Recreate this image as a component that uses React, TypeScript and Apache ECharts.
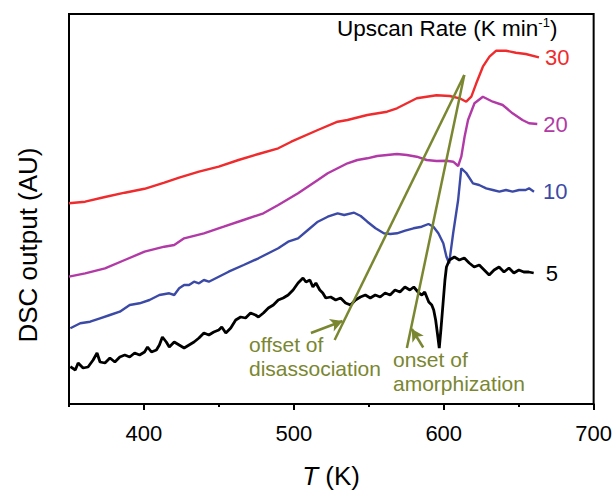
import React, { useEffect, useRef } from "react";
import * as echarts from "echarts";

// ---- data (T in K, DSC output in arbitrary units) ----
const temp30 = [350, 360.8, 374.0, 387.2, 400.4, 413.6, 423.5, 436.7, 449.9, 463.1, 476.4, 489.6, 498.3, 516.0, 529.2, 535.8, 549.0, 562.2, 568.8, 582.0, 595.2, 604.0, 610.6, 615.0, 618.4, 621.7, 626.1, 630.5, 635.0, 641.5, 648.1, 654.7, 663.5];
const dsc30 = [200.7, 202.3, 207, 211.3, 215.2, 221.3, 226.3, 232.3, 237.3, 244, 250, 255.7, 262.3, 274, 282.3, 284, 289, 292.3, 295.7, 305.7, 308.7, 308, 305.7, 302.3, 307.3, 320.7, 337.3, 347.3, 353.3, 353.3, 351.3, 350, 346.7];

const temp20 = [350, 360.8, 374.0, 387.2, 400.4, 413.6, 420.2, 426.8, 440.0, 453.2, 466.4, 479.7, 489.6, 502.8, 516.0, 522.6, 529.2, 535.8, 542.4, 549.0, 555.6, 562.2, 568.8, 575.4, 582.0, 588.6, 595.2, 601.8, 606.3, 609.6, 611.7, 613.9, 616.2, 620.5, 626.1, 632.7, 639.3, 645.9, 652.5, 656.9, 662.4];
const dsc20 = [127.3, 130.7, 135.7, 144, 152.3, 157.3, 159, 165.7, 170.7, 177.3, 184, 190.7, 199, 210.7, 224, 230.7, 235.7, 240.7, 244, 245.7, 248, 249, 250, 249, 247.3, 244, 243, 243.3, 242.3, 238, 247.3, 267.3, 284, 300.7, 307.3, 302.3, 299, 290.7, 284, 280.7, 280];

const temp10 = [350.9, 357.5, 364.1, 370.7, 377.3, 383.9, 390.5, 397.1, 403.7, 410.3, 416.9, 420.2, 423.5, 426.8, 430.1, 433.4, 436.7, 440.0, 443.3, 449.9, 456.5, 466.5, 476.4, 483.0, 489.6, 496.2, 502.8, 509.4, 516.0, 522.6, 529.2, 533.6, 540.2, 544.6, 549.0, 554.5, 560.0, 564.4, 568.8, 574.3, 579.8, 585.3, 589.8, 593.1, 596.4, 599.7, 601.8, 603.6, 606.3, 609.6, 611.7, 615.0, 619.5, 623.6, 628.3, 632.7, 637.1, 641.5, 645.9, 650.3, 654.7, 656.9, 660.2];
const dsc10 = [75.7, 80.7, 82.3, 85.7, 89, 92.3, 99, 100.7, 104, 109, 110.7, 109, 115.7, 119, 119, 122.3, 120.7, 124, 122.3, 127.3, 132.3, 139, 145.7, 150.7, 155.7, 162.3, 165.7, 174, 182.3, 187.3, 190.7, 189, 191.3, 188, 182.3, 175.7, 170.7, 170, 170.7, 173.3, 175.7, 177.3, 180, 177.3, 170.7, 160.7, 147.3, 140.7, 171, 204, 235.7, 231, 220.7, 219, 215.7, 214, 212.3, 214, 212.3, 214, 214, 215.7, 212.3];

const temp5 = [350.9, 354.2, 356.1, 359.4, 362.7, 366.1, 368.7, 370.7, 374.0, 377.3, 380.6, 383.9, 387.2, 390.5, 393.8, 397.1, 400.4, 402.4, 405.0, 408.3, 410.3, 412.3, 414.9, 416.9, 420.2, 423.5, 426.8, 430.1, 433.4, 436.7, 440.0, 443.3, 446.6, 449.9, 451.9, 454.6, 457.9, 461.2, 464.5, 467.8, 471.1, 474.4, 476.4, 479.7, 483.0, 486.3, 489.6, 492.9, 496.2, 499.5, 502.8, 506.1, 508.1, 510.7, 512.7, 514.7, 517.3, 519.3, 521.3, 524.6, 527.9, 531.2, 534.5, 537.8, 541.1, 544.4, 547.7, 551.0, 554.3, 557.6, 560.9, 564.2, 567.5, 570.8, 574.1, 577.4, 580.0, 583.4, 585.4, 587.3, 590.0, 592.0, 593.3, 594.6, 596.0, 597.0, 598.2, 599.5, 600.8, 601.8, 603.8, 607.1, 610.4, 613.7, 617.0, 620.3, 623.7, 627.0, 630.3, 633.6, 636.9, 640.2, 643.5, 646.8, 650.1, 653.4, 656.7, 660.0];
const dsc5 = [37.3, 34, 41, 36, 37, 44, 51, 42, 41, 46, 42, 47, 49, 47, 51, 49, 52, 57, 52, 54, 59, 67, 62, 57, 62, 59, 56, 59, 62, 66, 71, 69, 72, 74, 77, 71, 76, 84, 87, 86, 91, 89, 87, 91, 96, 99, 104, 106, 109, 114, 121, 126, 122, 124, 117, 121, 114, 111, 106, 107, 104, 106, 101, 99, 104, 107, 109, 106, 109, 107, 111, 109, 114, 112, 117, 114, 117, 111, 109, 112, 102, 99, 94, 84, 68, 56, 76, 100, 124, 137, 144, 147, 144, 146, 141, 137, 139, 134, 129, 134, 137, 132, 136, 131, 134, 132, 132, 131];

const rateLabels = ["30", "20", "10", "5"];
const xTickLabels = [400, 500, 600, 700];
const xMinorTicks = [350, 450, 550, 650];

// annotation segments [T, value]
const guideApex = [613.7, 329];
const guideOffsetEnd = [527.2, 64];
const guideOnsetEnd = [575.4, 56];
const arrowOffset = [[511.4, 71], [532.5, 83]];
const arrowOnset = [[586.3, 56.5], [578.7, 75]];

const FONT = '"Liberation Sans", Arial, Helvetica, sans-serif';
const OLIVE = "#7a8630";
const colors = ["#ef2b2d", "#b23aa6", "#3b4aa6", "#000000"];

const zip = (xs: number[], ys: number[]) => xs.map((x, i) => [x, ys[i]]);

export default function App() {
  const ref = useRef<HTMLDivElement>(null);
  useEffect(() => {
    document.body.style.margin = "0";
    const chart = echarts.init(ref.current!, undefined, { renderer: "svg" });
    const seriesData = [zip(temp30, dsc30), zip(temp20, dsc20), zip(temp10, dsc10), zip(temp5, dsc5)];
    const labelDist = [6, 6, 9, 12];
    const widths = [2.4, 2.4, 2.4, 2.8];
    const series: any[] = seriesData.map((d, i) => ({
      type: "line",
      name: rateLabels[i],
      data: d,
      symbol: "none",
      showSymbol: false,
      lineStyle: { color: colors[i], width: widths[i] },
      itemStyle: { color: colors[i] },
      endLabel: {
        show: true,
        formatter: rateLabels[i],
        color: colors[i],
        fontSize: 22,
        fontFamily: FONT,
        distance: labelDist[i],
      },
      silent: true,
      z: 2,
    }));
    const seg = (a: number[], b: number[], arrow = false) => [
      { coord: a, symbol: "none" },
      { coord: b, symbol: arrow ? "arrow" : "none", symbolSize: arrow ? [10, 12] : 0 },
    ];
    series.push({
      type: "line",
      data: [],
      silent: true,
      z: 5,
      markLine: {
        silent: true,
        animation: false,
        symbol: ["none", "none"],
        label: { show: false },
        lineStyle: { color: OLIVE, width: 2.5, type: "solid" },
        itemStyle: { color: OLIVE },
        emphasis: { disabled: true },
        data: [
          seg(guideApex, guideOffsetEnd),
          seg(guideApex, guideOnsetEnd),
          seg(arrowOffset[0], arrowOffset[1], true),
          seg(arrowOnset[0], arrowOnset[1], true),
        ],
      },
    });

    chart.setOption({
      animation: false,
      textStyle: { fontFamily: FONT },
      grid: {
        left: 69,
        right: 16,
        top: 14,
        bottom: 87,
        show: true,
        borderColor: "#000",
        borderWidth: 2,
        containLabel: false,
      },
      xAxis: [
        {
          type: "value",
          min: 350,
          max: 700,
          position: "bottom",
          splitLine: { show: false },
          axisLine: { show: true, lineStyle: { color: "#000", width: 2 } },
          axisTick: {
            show: true,
            customValues: xTickLabels,
            length: 6,
            lineStyle: { color: "#000", width: 2 },
          },
          axisLabel: {
            show: true,
            customValues: xTickLabels,
            color: "#000",
            fontSize: 22,
            fontFamily: FONT,
            margin: 18,
          },
        },
        {
          type: "value",
          min: 350,
          max: 700,
          position: "bottom",
          splitLine: { show: false },
          axisLine: { show: false },
          axisTick: {
            show: true,
            customValues: xMinorTicks,
            length: 3,
            lineStyle: { color: "#000", width: 2 },
          },
          axisLabel: { show: false },
        },
      ],
      yAxis: {
        type: "value",
        min: 0,
        max: 390,
        splitLine: { show: false },
        axisLine: { show: true, lineStyle: { color: "#000", width: 2 } },
        axisTick: { show: false },
        axisLabel: { show: false },
      },
      graphic: [
        {
          type: "text",
          x: 28,
          y: 245,
          rotation: Math.PI / 2,
          style: {
            text: "DSC output (AU)",
            fill: "#000",
            fontSize: 26,
            fontFamily: FONT,
            textAlign: "center",
            textVerticalAlign: "middle",
          },
        },
        {
          type: "text",
          x: 331,
          y: 476,
          style: {
            text: "{i|T} (K)",
            fill: "#000",
            fontSize: 26,
            fontFamily: FONT,
            textAlign: "center",
            textVerticalAlign: "middle",
            rich: {
              i: { fontStyle: "italic", fontSize: 26, fontFamily: FONT, fill: "#000" },
            },
          },
        },
        {
          type: "text",
          x: 337,
          y: 28,
          style: {
            text: "{a|Upscan Rate (K min}{s|-1}{a|)}",
            fill: "#000",
            fontSize: 22.5,
            fontFamily: FONT,
            textAlign: "left",
            textVerticalAlign: "middle",
            rich: {
              a: { fontSize: 22.5, fontFamily: FONT, fill: "#000", lineHeight: 24 },
              s: { fontSize: 13, fontFamily: FONT, fill: "#000", verticalAlign: "top", lineHeight: 24 },
            },
          },
        },
        { type: "text", x: 249, y: 344.5, style: { text: "offset of", fill: OLIVE, fontSize: 21, fontFamily: FONT, textAlign: "left", textVerticalAlign: "middle" } },
        { type: "text", x: 249, y: 368.5, style: { text: "disassociation", fill: OLIVE, fontSize: 21, fontFamily: FONT, textAlign: "left", textVerticalAlign: "middle" } },
        { type: "text", x: 393, y: 359.5, style: { text: "onset of", fill: OLIVE, fontSize: 21, fontFamily: FONT, textAlign: "left", textVerticalAlign: "middle" } },
        { type: "text", x: 393, y: 383.5, style: { text: "amorphization", fill: OLIVE, fontSize: 21, fontFamily: FONT, textAlign: "left", textVerticalAlign: "middle" } },
      ],
      series,
    });
    return () => chart.dispose();
  }, []);
  return (
    <div
      ref={ref}
      style={{ position: "fixed", left: 0, top: 0, width: 615, height: 491, background: "#fff" }}
    />
  );
}
